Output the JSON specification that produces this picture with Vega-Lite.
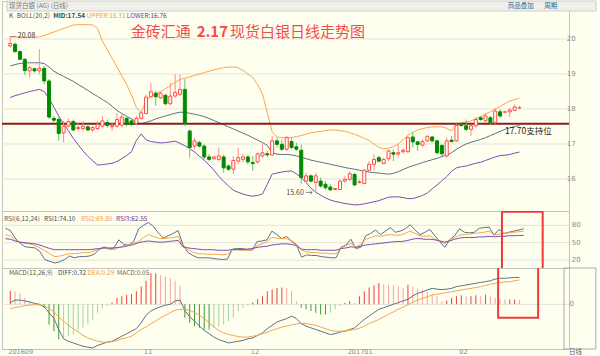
{
"$schema":"https://vega.github.io/schema/vega-lite/v6.json",
"background":"#fffff0",
"padding":0,
"spacing":0,
"bounds":"flush",
"config":{"view":{"stroke":"#c4c4c4"},"font":"Noto Sans CJK SC"},
"datasets":{
"gmain":[{"v":16},{"v":17},{"v":18},{"v":19},{"v":20}],
"grsi":[{"v":20},{"v":50},{"v":80}],
"gmacd":[{"v":0}],
"months":[{"k":1,"t":"201609"},{"k":29,"t":"11"},{"k":51,"t":"12"},{"k":71,"t":"201701"},{"k":94,"t":"02"}],
"c":[
{"k":1,"o":19.80,"h":20.08,"l":19.75,"c":19.87,"u":20.06,"m":19.23,"d":18.33,"r1":75,"r2":64,"r3":57,"df":0.02,"de":-0.05,"mh":0.16},
{"k":2,"o":19.85,"h":19.90,"l":19.61,"c":19.64,"u":20.06,"m":19.27,"d":18.38,"r1":71,"r2":62,"r3":56,"df":0.05,"de":-0.04,"mh":0.155},
{"k":3,"o":19.64,"h":19.68,"l":19.39,"c":19.42,"u":20.06,"m":19.30,"d":18.42,"r1":58,"r2":55,"r3":53,"df":0.05,"de":-0.03,"mh":0.135},
{"k":4,"o":19.42,"h":19.45,"l":18.97,"c":19.10,"u":20.05,"m":19.32,"d":18.46,"r1":49,"r2":51,"r3":51,"df":0.04,"de":-0.015,"mh":0.075},
{"k":5,"o":19.09,"h":19.23,"l":18.90,"c":19.18,"u":20.05,"m":19.32,"d":18.50,"r1":43,"r2":49,"r3":50,"df":0.03,"de":-0.01,"mh":0.03},
{"k":6,"o":19.15,"h":19.18,"l":19.04,"c":19.09,"u":20.05,"m":19.32,"d":18.53,"r1":42,"r2":48,"r3":49,"df":0.01,"de":-0.005,"mh":0.01},
{"k":7,"o":19.09,"h":19.71,"l":18.99,"c":19.16,"u":20.06,"m":19.32,"d":18.56,"r1":41,"r2":45,"r3":48,"df":0.00,"de":-0.005,"mh":-0.01},
{"k":8,"o":19.16,"h":19.23,"l":18.71,"c":18.80,"u":20.10,"m":19.30,"d":18.50,"r1":35,"r2":41,"r3":46,"df":-0.03,"de":-0.015,"mh":-0.04},
{"k":9,"o":18.80,"h":18.85,"l":17.71,"c":17.77,"u":20.15,"m":19.20,"d":18.30,"r1":21,"r2":36,"r3":43,"df":-0.10,"de":-0.05,"mh":-0.24},
{"k":10,"o":17.73,"h":17.80,"l":17.61,"c":17.68,"u":20.20,"m":19.08,"d":18.05,"r1":18,"r2":31,"r3":40,"df":-0.17,"de":-0.09,"mh":-0.32},
{"k":11,"o":17.70,"h":17.77,"l":17.09,"c":17.30,"u":20.25,"m":19.00,"d":17.80,"r1":15,"r2":26,"r3":38,"df":-0.30,"de":-0.15,"mh":-0.42},
{"k":12,"o":17.32,"h":17.66,"l":17.04,"c":17.51,"u":20.30,"m":18.93,"d":17.58,"r1":17,"r2":27,"r3":38,"df":-0.41,"de":-0.20,"mh":-0.40},
{"k":13,"o":17.51,"h":17.73,"l":17.47,"c":17.64,"u":20.35,"m":18.86,"d":17.38,"r1":21,"r2":29,"r3":38,"df":-0.44,"de":-0.25,"mh":-0.38},
{"k":14,"o":17.64,"h":17.70,"l":17.37,"c":17.40,"u":20.40,"m":18.79,"d":17.16,"r1":27,"r2":31,"r3":38,"df":-0.46,"de":-0.29,"mh":-0.36},
{"k":15,"o":17.44,"h":17.61,"l":17.37,"c":17.47,"u":20.41,"m":18.70,"d":16.98,"r1":24,"r2":31,"r3":38,"df":-0.48,"de":-0.33,"mh":-0.32},
{"k":16,"o":17.44,"h":17.66,"l":17.37,"c":17.51,"u":20.41,"m":18.62,"d":16.80,"r1":26,"r2":32,"r3":38,"df":-0.50,"de":-0.37,"mh":-0.28},
{"k":17,"o":17.49,"h":17.56,"l":17.37,"c":17.40,"u":20.41,"m":18.53,"d":16.65,"r1":26,"r2":33,"r3":38,"df":-0.51,"de":-0.40,"mh":-0.24},
{"k":18,"o":17.40,"h":17.51,"l":17.35,"c":17.47,"u":20.40,"m":18.44,"d":16.52,"r1":27,"r2":33,"r3":38,"df":-0.52,"de":-0.42,"mh":-0.18},
{"k":19,"o":17.44,"h":17.66,"l":17.40,"c":17.56,"u":20.30,"m":18.36,"d":16.40,"r1":30,"r2":36,"r3":39,"df":-0.49,"de":-0.44,"mh":-0.10},
{"k":20,"o":17.51,"h":17.80,"l":17.47,"c":17.66,"u":19.94,"m":18.27,"d":16.41,"r1":38,"r2":39,"r3":40,"df":-0.47,"de":-0.45,"mh":-0.05},
{"k":21,"o":17.61,"h":17.70,"l":17.47,"c":17.53,"u":19.70,"m":18.19,"d":16.43,"r1":43,"r2":41,"r3":41,"df":-0.45,"de":-0.45,"mh":-0.02},
{"k":22,"o":17.49,"h":17.61,"l":17.37,"c":17.53,"u":19.45,"m":18.08,"d":16.45,"r1":39,"r2":39,"r3":41,"df":-0.44,"de":-0.445,"mh":0.02},
{"k":23,"o":17.51,"h":17.89,"l":17.47,"c":17.70,"u":19.20,"m":17.96,"d":16.50,"r1":41,"r2":38,"r3":41,"df":-0.41,"de":-0.43,"mh":0.075},
{"k":24,"o":17.54,"h":17.85,"l":17.47,"c":17.77,"u":18.95,"m":17.87,"d":16.58,"r1":55,"r2":42,"r3":42,"df":-0.38,"de":-0.41,"mh":0.095},
{"k":25,"o":17.73,"h":17.80,"l":17.51,"c":17.56,"u":18.70,"m":17.79,"d":16.67,"r1":47,"r2":45,"r3":43,"df":-0.35,"de":-0.40,"mh":0.115},
{"k":26,"o":17.66,"h":17.70,"l":17.51,"c":17.56,"u":18.40,"m":17.72,"d":16.78,"r1":46,"r2":47,"r3":45,"df":-0.32,"de":-0.38,"mh":0.12},
{"k":27,"o":17.59,"h":17.80,"l":17.54,"c":17.73,"u":18.05,"m":17.62,"d":17.10,"r1":52,"r2":49,"r3":47,"df":-0.29,"de":-0.34,"mh":0.155},
{"k":28,"o":17.73,"h":17.94,"l":17.70,"c":17.89,"u":17.89,"m":17.58,"d":17.29,"r1":74,"r2":52,"r3":50,"df":-0.22,"de":-0.30,"mh":0.215},
{"k":29,"o":17.87,"h":18.42,"l":17.85,"c":18.34,"u":18.25,"m":17.62,"d":17.12,"r1":80,"r2":59,"r3":52,"df":-0.13,"de":-0.27,"mh":0.28},
{"k":30,"o":18.35,"h":18.75,"l":18.32,"c":18.49,"u":18.35,"m":17.66,"d":17.07,"r1":85,"r2":64,"r3":53,"df":-0.08,"de":-0.23,"mh":0.37},
{"k":31,"o":18.45,"h":18.51,"l":18.09,"c":18.35,"u":18.44,"m":17.72,"d":17.05,"r1":78,"r2":61,"r3":52,"df":-0.05,"de":-0.20,"mh":0.37},
{"k":32,"o":18.32,"h":18.51,"l":18.28,"c":18.45,"u":18.50,"m":17.76,"d":17.03,"r1":67,"r2":58,"r3":51,"df":-0.03,"de":-0.16,"mh":0.35},
{"k":33,"o":18.39,"h":18.44,"l":18.11,"c":18.15,"u":18.58,"m":17.80,"d":17.04,"r1":58,"r2":57,"r3":51,"df":-0.01,"de":-0.13,"mh":0.33},
{"k":34,"o":18.15,"h":18.75,"l":18.11,"c":18.37,"u":18.66,"m":17.84,"d":17.06,"r1":62,"r2":58,"r3":52,"df":0.00,"de":-0.10,"mh":0.31},
{"k":35,"o":18.37,"h":18.99,"l":18.32,"c":18.47,"u":18.76,"m":17.88,"d":17.08,"r1":66,"r2":59,"r3":53,"df":0.04,"de":-0.07,"mh":0.28},
{"k":36,"o":18.42,"h":18.99,"l":18.37,"c":18.56,"u":18.84,"m":17.91,"d":17.02,"r1":71,"r2":61,"r3":54,"df":0.05,"de":-0.06,"mh":0.22},
{"k":37,"o":18.56,"h":18.85,"l":17.51,"c":17.58,"u":18.88,"m":17.90,"d":16.95,"r1":46,"r2":43,"r3":43,"df":-0.07,"de":-0.06,"mh":-0.16},
{"k":38,"o":17.37,"h":17.42,"l":16.61,"c":16.90,"u":18.92,"m":17.88,"d":16.87,"r1":33,"r2":38,"r3":41,"df":-0.15,"de":-0.07,"mh":-0.22},
{"k":39,"o":16.94,"h":17.18,"l":16.85,"c":17.09,"u":18.96,"m":17.85,"d":16.77,"r1":28,"r2":34,"r3":40,"df":-0.20,"de":-0.10,"mh":-0.26},
{"k":40,"o":17.04,"h":17.09,"l":16.90,"c":16.94,"u":19.00,"m":17.82,"d":16.65,"r1":24,"r2":31,"r3":39,"df":-0.26,"de":-0.13,"mh":-0.28},
{"k":41,"o":16.94,"h":16.99,"l":16.56,"c":16.63,"u":19.04,"m":17.78,"d":16.54,"r1":24,"r2":31,"r3":38,"df":-0.31,"de":-0.17,"mh":-0.30},
{"k":42,"o":16.63,"h":16.71,"l":16.51,"c":16.56,"u":19.08,"m":17.73,"d":16.40,"r1":24,"r2":30,"r3":38,"df":-0.35,"de":-0.22,"mh":-0.30},
{"k":43,"o":16.58,"h":16.66,"l":16.54,"c":16.63,"u":19.12,"m":17.67,"d":16.25,"r1":23,"r2":30,"r3":38,"df":-0.39,"de":-0.27,"mh":-0.28},
{"k":44,"o":16.56,"h":16.90,"l":16.51,"c":16.66,"u":19.15,"m":17.61,"d":16.08,"r1":22,"r2":30,"r3":37,"df":-0.42,"de":-0.31,"mh":-0.26},
{"k":45,"o":16.63,"h":16.69,"l":16.18,"c":16.32,"u":19.18,"m":17.55,"d":15.93,"r1":21,"r2":29,"r3":37,"df":-0.44,"de":-0.34,"mh":-0.24},
{"k":46,"o":16.37,"h":16.42,"l":16.23,"c":16.28,"u":19.20,"m":17.49,"d":15.80,"r1":22,"r2":30,"r3":37,"df":-0.46,"de":-0.36,"mh":-0.20},
{"k":47,"o":16.28,"h":16.66,"l":16.13,"c":16.53,"u":19.20,"m":17.43,"d":15.68,"r1":39,"r2":38,"r3":38,"df":-0.45,"de":-0.37,"mh":-0.16},
{"k":48,"o":16.51,"h":16.90,"l":16.42,"c":16.61,"u":19.18,"m":17.37,"d":15.62,"r1":40,"r2":38,"r3":38,"df":-0.44,"de":-0.385,"mh":-0.08},
{"k":49,"o":16.56,"h":16.71,"l":16.47,"c":16.63,"u":19.10,"m":17.31,"d":15.57,"r1":40,"r2":37,"r3":38,"df":-0.43,"de":-0.39,"mh":-0.04},
{"k":50,"o":16.63,"h":16.69,"l":16.42,"c":16.49,"u":19.00,"m":17.25,"d":15.53,"r1":38,"r2":37,"r3":39,"df":-0.41,"de":-0.39,"mh":-0.02},
{"k":51,"o":16.47,"h":16.66,"l":16.23,"c":16.44,"u":18.90,"m":17.18,"d":15.51,"r1":37,"r2":37,"r3":40,"df":-0.40,"de":-0.38,"mh":0.02},
{"k":52,"o":16.49,"h":16.75,"l":16.44,"c":16.72,"u":18.70,"m":17.11,"d":15.53,"r1":52,"r2":45,"r3":42,"df":-0.37,"de":-0.37,"mh":0.06},
{"k":53,"o":16.66,"h":16.99,"l":16.61,"c":16.75,"u":18.43,"m":17.04,"d":15.57,"r1":53,"r2":48,"r3":43,"df":-0.34,"de":-0.35,"mh":0.095},
{"k":54,"o":16.72,"h":16.80,"l":16.63,"c":16.69,"u":17.90,"m":16.96,"d":15.85,"r1":55,"r2":52,"r3":44,"df":-0.29,"de":-0.33,"mh":0.155},
{"k":55,"o":16.69,"h":17.23,"l":16.66,"c":17.09,"u":17.35,"m":16.75,"d":16.14,"r1":70,"r2":59,"r3":46,"df":-0.25,"de":-0.31,"mh":0.175},
{"k":56,"o":17.09,"h":17.18,"l":16.90,"c":16.99,"u":17.20,"m":16.71,"d":16.17,"r1":64,"r2":58,"r3":47,"df":-0.21,"de":-0.29,"mh":0.195},
{"k":57,"o":16.99,"h":17.13,"l":16.80,"c":16.85,"u":17.18,"m":16.70,"d":16.20,"r1":57,"r2":57,"r3":48,"df":-0.19,"de":-0.27,"mh":0.20},
{"k":58,"o":16.85,"h":17.23,"l":16.80,"c":17.18,"u":17.18,"m":16.70,"d":16.22,"r1":61,"r2":57,"r3":48,"df":-0.17,"de":-0.26,"mh":0.195},
{"k":59,"o":17.07,"h":17.18,"l":16.85,"c":16.90,"u":17.19,"m":16.69,"d":16.23,"r1":52,"r2":54,"r3":47,"df":-0.14,"de":-0.245,"mh":0.155},
{"k":60,"o":16.92,"h":17.04,"l":16.80,"c":16.85,"u":17.21,"m":16.66,"d":16.15,"r1":46,"r2":47,"r3":45,"df":-0.17,"de":-0.235,"mh":0.035},
{"k":61,"o":16.82,"h":16.99,"l":15.85,"c":16.04,"u":17.24,"m":16.62,"d":16.04,"r1":25,"r2":37,"r3":39,"df":-0.23,"de":-0.225,"mh":-0.04},
{"k":62,"o":15.94,"h":16.18,"l":15.90,"c":16.09,"u":17.28,"m":16.58,"d":15.90,"r1":29,"r2":34,"r3":38,"df":-0.26,"de":-0.23,"mh":-0.06},
{"k":63,"o":16.09,"h":16.13,"l":15.90,"c":15.94,"u":17.32,"m":16.54,"d":15.74,"r1":28,"r2":33,"r3":38,"df":-0.28,"de":-0.24,"mh":-0.08},
{"k":64,"o":15.90,"h":16.18,"l":15.60,"c":16.09,"u":17.34,"m":16.51,"d":15.62,"r1":28,"r2":33,"r3":38,"df":-0.30,"de":-0.25,"mh":-0.10},
{"k":65,"o":15.94,"h":16.04,"l":15.75,"c":15.80,"u":17.36,"m":16.48,"d":15.54,"r1":26,"r2":32,"r3":37,"df":-0.32,"de":-0.27,"mh":-0.12},
{"k":66,"o":15.85,"h":15.94,"l":15.70,"c":15.75,"u":17.38,"m":16.45,"d":15.46,"r1":25,"r2":32,"r3":37,"df":-0.34,"de":-0.29,"mh":-0.12},
{"k":67,"o":15.77,"h":15.85,"l":15.66,"c":15.69,"u":17.40,"m":16.42,"d":15.40,"r1":24,"r2":31,"r3":37,"df":-0.36,"de":-0.31,"mh":-0.10},
{"k":68,"o":15.70,"h":15.75,"l":15.68,"c":15.73,"u":17.40,"m":16.39,"d":15.36,"r1":24,"r2":31,"r3":37,"df":-0.35,"de":-0.32,"mh":-0.06},
{"k":69,"o":15.70,"h":15.99,"l":15.68,"c":15.94,"u":17.38,"m":16.36,"d":15.33,"r1":42,"r2":41,"r3":40,"df":-0.33,"de":-0.32,"mh":-0.02},
{"k":70,"o":15.94,"h":16.09,"l":15.90,"c":15.99,"u":17.36,"m":16.33,"d":15.30,"r1":46,"r2":45,"r3":41,"df":-0.32,"de":-0.32,"mh":0.016},
{"k":71,"o":15.99,"h":16.23,"l":15.94,"c":16.15,"u":17.32,"m":16.30,"d":15.28,"r1":56,"r2":49,"r3":43,"df":-0.30,"de":-0.31,"mh":0.036},
{"k":72,"o":16.13,"h":16.18,"l":15.80,"c":15.83,"u":17.28,"m":16.28,"d":15.26,"r1":40,"r2":42,"r3":42,"df":-0.28,"de":-0.30,"mh":0.016},
{"k":73,"o":15.90,"h":15.99,"l":15.87,"c":15.92,"u":17.22,"m":16.25,"d":15.27,"r1":42,"r2":48,"r3":44,"df":-0.23,"de":-0.285,"mh":0.095},
{"k":74,"o":15.87,"h":16.28,"l":15.85,"c":16.25,"u":17.16,"m":16.22,"d":15.29,"r1":62,"r2":56,"r3":46,"df":-0.18,"de":-0.26,"mh":0.155},
{"k":75,"o":16.25,"h":16.51,"l":16.23,"c":16.42,"u":17.10,"m":16.20,"d":15.32,"r1":66,"r2":59,"r3":47,"df":-0.14,"de":-0.23,"mh":0.20},
{"k":76,"o":16.42,"h":16.71,"l":16.23,"c":16.56,"u":17.00,"m":16.18,"d":15.35,"r1":72,"r2":62,"r3":48,"df":-0.10,"de":-0.205,"mh":0.226},
{"k":77,"o":16.61,"h":16.66,"l":16.47,"c":16.51,"u":16.90,"m":16.17,"d":15.38,"r1":64,"r2":61,"r3":49,"df":-0.06,"de":-0.18,"mh":0.254},
{"k":78,"o":16.44,"h":16.61,"l":16.42,"c":16.56,"u":16.86,"m":16.15,"d":15.43,"r1":70,"r2":63,"r3":50,"df":-0.04,"de":-0.15,"mh":0.24},
{"k":79,"o":16.58,"h":16.85,"l":16.51,"c":16.80,"u":16.88,"m":16.14,"d":15.48,"r1":76,"r2":64,"r3":51,"df":-0.02,"de":-0.12,"mh":0.234},
{"k":80,"o":16.75,"h":16.85,"l":16.51,"c":16.71,"u":16.92,"m":16.16,"d":15.49,"r1":68,"r2":63,"r3":52,"df":0.00,"de":-0.09,"mh":0.226},
{"k":81,"o":16.71,"h":16.99,"l":16.61,"c":16.75,"u":17.00,"m":16.21,"d":15.49,"r1":70,"r2":63,"r3":52,"df":0.02,"de":-0.06,"mh":0.214},
{"k":82,"o":16.78,"h":16.88,"l":16.72,"c":16.82,"u":17.12,"m":16.27,"d":15.47,"r1":74,"r2":66,"r3":53,"df":0.04,"de":-0.035,"mh":0.194},
{"k":83,"o":16.78,"h":17.23,"l":16.75,"c":17.18,"u":17.25,"m":16.33,"d":15.44,"r1":81,"r2":70,"r3":55,"df":0.06,"de":-0.005,"mh":0.234},
{"k":84,"o":17.20,"h":17.33,"l":16.90,"c":17.06,"u":17.33,"m":16.38,"d":15.44,"r1":72,"r2":66,"r3":57,"df":0.10,"de":0.025,"mh":0.214},
{"k":85,"o":17.06,"h":17.09,"l":16.80,"c":16.99,"u":17.40,"m":16.42,"d":15.48,"r1":64,"r2":62,"r3":57,"df":0.13,"de":0.05,"mh":0.186},
{"k":86,"o":16.97,"h":17.13,"l":16.90,"c":17.07,"u":17.44,"m":16.47,"d":15.53,"r1":68,"r2":61,"r3":56,"df":0.15,"de":0.07,"mh":0.174},
{"k":87,"o":17.09,"h":17.25,"l":17.06,"c":17.22,"u":17.47,"m":16.51,"d":15.60,"r1":73,"r2":62,"r3":56,"df":0.17,"de":0.09,"mh":0.147},
{"k":88,"o":17.20,"h":17.23,"l":17.04,"c":17.09,"u":17.49,"m":16.55,"d":15.72,"r1":62,"r2":56,"r3":55,"df":0.19,"de":0.11,"mh":0.115},
{"k":89,"o":17.09,"h":17.13,"l":16.70,"c":16.75,"u":17.49,"m":16.59,"d":15.83,"r1":52,"r2":53,"r3":53,"df":0.18,"de":0.12,"mh":0.095},
{"k":90,"o":16.96,"h":16.99,"l":16.66,"c":16.72,"u":17.49,"m":16.64,"d":15.95,"r1":42,"r2":49,"r3":51,"df":0.175,"de":0.13,"mh":0.036},
{"k":91,"o":16.66,"h":17.18,"l":16.60,"c":17.09,"u":17.45,"m":16.69,"d":16.07,"r1":55,"r2":55,"r3":53,"df":0.18,"de":0.14,"mh":0.044},
{"k":92,"o":17.11,"h":17.23,"l":17.04,"c":17.07,"u":17.37,"m":16.75,"d":16.22,"r1":62,"r2":59,"r3":56,"df":0.19,"de":0.15,"mh":0.075},
{"k":93,"o":17.09,"h":17.58,"l":17.06,"c":17.53,"u":17.57,"m":16.85,"d":16.32,"r1":74,"r2":63,"r3":58,"df":0.21,"de":0.16,"mh":0.095},
{"k":94,"o":17.56,"h":17.61,"l":17.49,"c":17.53,"u":17.60,"m":16.93,"d":16.35,"r1":68,"r2":64,"r3":59,"df":0.22,"de":0.17,"mh":0.107},
{"k":95,"o":17.52,"h":17.70,"l":17.37,"c":17.42,"u":17.63,"m":17.00,"d":16.37,"r1":67,"r2":65,"r3":59,"df":0.23,"de":0.18,"mh":0.095},
{"k":96,"o":17.42,"h":17.56,"l":17.23,"c":17.52,"u":17.66,"m":17.05,"d":16.41,"r1":68,"r2":66,"r3":59,"df":0.24,"de":0.19,"mh":0.095},
{"k":97,"o":17.52,"h":17.77,"l":17.47,"c":17.70,"u":17.72,"m":17.09,"d":16.45,"r1":75,"r2":67,"r3":60,"df":0.25,"de":0.20,"mh":0.107},
{"k":98,"o":17.75,"h":17.80,"l":17.66,"c":17.70,"u":17.79,"m":17.13,"d":16.48,"r1":76,"r2":68,"r3":60,"df":0.26,"de":0.21,"mh":0.095},
{"k":99,"o":17.66,"h":17.87,"l":17.61,"c":17.80,"u":17.86,"m":17.18,"d":16.53,"r1":77,"r2":70,"r3":61,"df":0.27,"de":0.225,"mh":0.115},
{"k":100,"o":17.75,"h":17.80,"l":17.56,"c":17.61,"u":17.92,"m":17.24,"d":16.58,"r1":63,"r2":63,"r3":60,"df":0.28,"de":0.24,"mh":0.095},
{"k":101,"o":17.61,"h":18.03,"l":17.56,"c":17.94,"u":18.00,"m":17.30,"d":16.63,"r1":73,"r2":65,"r3":61,"df":0.30,"de":0.25,"mh":0.075},
{"k":102,"o":17.92,"h":17.99,"l":17.75,"c":17.80,"u":18.07,"m":17.36,"d":16.67,"r1":66,"r2":66,"r3":61,"df":0.31,"de":0.26,"mh":0.067},
{"k":103,"o":17.91,"h":17.94,"l":17.89,"c":17.92,"u":18.15,"m":17.42,"d":16.68,"r1":68,"r2":67,"r3":62,"df":0.31,"de":0.265,"mh":0.056},
{"k":104,"o":17.92,"h":18.03,"l":17.77,"c":17.97,"u":18.23,"m":17.46,"d":16.70,"r1":70,"r2":68,"r3":62,"df":0.315,"de":0.27,"mh":0.056},
{"k":105,"o":17.96,"h":18.13,"l":17.94,"c":18.06,"u":18.27,"m":17.50,"d":16.74,"r1":72,"r2":69,"r3":62.5,"df":0.32,"de":0.28,"mh":0.056},
{"k":106,"o":18.03,"h":18.09,"l":17.99,"c":18.04,"u":18.31,"m":17.53,"d":16.77,"r1":74.1,"r2":69.8,"r3":62.55,"df":0.32,"de":0.29,"mh":0.05}
]},
"vconcat":[
{
"width":567,"height":210,
"layer":[
{"data":{"name":"gmain"},"mark":{"type":"rule","color":"#e2e2da","strokeWidth":1},
 "encoding":{"y":{"field":"v","type":"quantitative","scale":{"domain":[15.0857,21.0857],"nice":false,"zero":false},"axis":null}}},
{"data":{"name":"gmain"},"mark":{"type":"text","align":"left","baseline":"middle","fontSize":7,"color":"#8a8a8a","font":"DejaVu Sans"},
 "encoding":{"x":{"datum":115.75,"axis":null},"y":{"field":"v","type":"quantitative","axis":null},"text":{"field":"v","type":"quantitative"}}},
{"data":{"values":[{}]},"mark":{"type":"rect","fill":"#f0f0ea","stroke":"#cccccc","strokeWidth":1},
 "encoding":{"x":{"datum":0.33,"axis":null},"x2":{"datum":121.8},"y":{"datum":20.8,"type":"quantitative","axis":null},"y2":{"datum":21.0857}}},
{"data":{"name":"c"},"mark":{"type":"line","color":"#f6a64c","strokeWidth":1},
 "encoding":{"x":{"field":"k","type":"quantitative","scale":{"domain":[0.33,115.18],"nice":false,"zero":false},"axis":null},
 "y":{"field":"u","type":"quantitative","axis":null}}},
{"data":{"name":"c"},"mark":{"type":"line","color":"#5d7186","strokeWidth":1},
 "encoding":{"x":{"field":"k","type":"quantitative","axis":null},"y":{"field":"m","type":"quantitative","axis":null}}},
{"data":{"name":"c"},"mark":{"type":"line","color":"#7b4fae","strokeWidth":1},
 "encoding":{"x":{"field":"k","type":"quantitative","axis":null},"y":{"field":"d","type":"quantitative","axis":null}}},
{"data":{"values":[{}]},"mark":{"type":"rule","color":"#8b1c1c","strokeWidth":2},
 "encoding":{"y":{"datum":17.58,"axis":null}}},
{"data":{"name":"c"},"mark":{"type":"rule","strokeWidth":1},
 "encoding":{"x":{"field":"k","type":"quantitative","axis":null},"y":{"field":"l","type":"quantitative","axis":null},"y2":{"field":"h"},
 "color":{"condition":{"test":"datum.c>=datum.o","value":"#ff8a8a"},"value":"#6fbf6f"}}},
{"data":{"name":"c"},"mark":{"type":"bar","size":3,"strokeWidth":1},
 "encoding":{"x":{"field":"k","type":"quantitative","axis":null},"y":{"field":"o","type":"quantitative","axis":null},"y2":{"field":"c"},
 "fill":{"condition":{"test":"datum.c>=datum.o","value":"#fffff0"},"value":"#008a00"},
 "stroke":{"condition":{"test":"datum.c>=datum.o","value":"#ff4a4a"},"value":"#008a00"}}},
{"data":{"values":[{}]},"mark":{"type":"text","text":"现货白银 (AG) (日线)","align":"left","baseline":"middle","fontSize":6.5,"color":"#777777"},
 "encoding":{"x":{"datum":0.74,"axis":null},"y":{"datum":20.943,"axis":null}}},
{"data":{"values":[{}]},"mark":{"type":"text","text":"商品叠加","align":"left","baseline":"middle","fontSize":6.5,"color":"#2a6a9a"},
 "encoding":{"x":{"datum":103.6,"axis":null},"y":{"datum":20.943,"axis":null}}},
{"data":{"values":[{}]},"mark":{"type":"text","text":"周期","align":"left","baseline":"middle","fontSize":6.5,"color":"#2a6a9a"},
 "encoding":{"x":{"datum":111.1,"axis":null},"y":{"datum":20.943,"axis":null}}},
{"data":{"values":[{}]},"mark":{"type":"text","text":"K","align":"left","baseline":"middle","fontSize":6.5,"color":"#555555"},
 "encoding":{"x":{"datum":0.74,"axis":null},"y":{"datum":20.657,"axis":null}}},
{"data":{"values":[{}]},"mark":{"type":"text","text":"BOLL(20,2)","align":"left","baseline":"middle","fontSize":6.5,"color":"#555555"},
 "encoding":{"x":{"datum":2.36,"axis":null},"y":{"datum":20.657,"axis":null}}},
{"data":{"values":[{}]},"mark":{"type":"text","text":"MID:17.54","align":"left","baseline":"middle","fontSize":6.5,"fontWeight":"bold","color":"#34495e"},
 "encoding":{"x":{"datum":9.85,"axis":null},"y":{"datum":20.657,"axis":null}}},
{"data":{"values":[{}]},"mark":{"type":"text","text":"UPPER:18.31","align":"left","baseline":"middle","fontSize":6.5,"color":"#f39c3c"},
 "encoding":{"x":{"datum":16.74,"axis":null},"y":{"datum":20.657,"axis":null}}},
{"data":{"values":[{}]},"mark":{"type":"text","text":"LOWER:16.76","align":"left","baseline":"middle","fontSize":6.5,"color":"#6a3aa0"},
 "encoding":{"x":{"datum":25.04,"axis":null},"y":{"datum":20.657,"axis":null}}},
{"data":{"values":[{}]},"mark":{"type":"text","text":"金砖汇通","align":"left","baseline":"middle","fontSize":15,"color":"#f24c4c"},
 "encoding":{"x":{"datum":25.85,"axis":null},"y":{"datum":20.21,"axis":null}}},
{"data":{"values":[{}]},"mark":{"type":"text","text":"2.17","align":"left","baseline":"middle","fontSize":15,"fontWeight":"bold","color":"#f24c4c"},
 "encoding":{"x":{"datum":39.43,"axis":null},"y":{"datum":20.21,"axis":null}}},
{"data":{"values":[{}]},"mark":{"type":"text","text":"现货白银日线走势图","align":"left","baseline":"middle","fontSize":15,"color":"#f24c4c"},
 "encoding":{"x":{"datum":46.3,"axis":null},"y":{"datum":20.21,"axis":null}}},
{"data":{"values":[{}]},"mark":{"type":"text","text":"— 20.08","align":"left","baseline":"middle","fontSize":7,"color":"#333333"},
 "encoding":{"x":{"datum":0.94,"axis":null},"y":{"datum":20.086,"axis":null}}},
{"data":{"values":[{}]},"mark":{"type":"text","text":"15.60 →","align":"right","baseline":"middle","fontSize":7,"color":"#3a4a5a"},
 "encoding":{"x":{"datum":63.3,"axis":null},"y":{"datum":15.6,"axis":null}}},
{"data":{"values":[{}]},"mark":{"type":"text","text":"17.70支持位","align":"left","baseline":"middle","fontSize":8.5,"color":"#222222"},
 "encoding":{"x":{"datum":103.0,"axis":null},"y":{"datum":17.37,"axis":null}}}
]
},
{
"width":567,"height":57,
"layer":[
{"data":{"name":"grsi"},"mark":{"type":"rule","color":"#e2e2da","strokeWidth":1},
 "encoding":{"y":{"field":"v","type":"quantitative","scale":{"domain":[6.4,104.7],"nice":false,"zero":false},"axis":null}}},
{"data":{"name":"grsi"},"mark":{"type":"text","align":"left","baseline":"middle","fontSize":7,"color":"#8a8a8a","font":"DejaVu Sans"},
 "encoding":{"x":{"datum":115.75,"axis":null},"y":{"field":"v","type":"quantitative","axis":null},"text":{"field":"v","type":"quantitative"}}},
{"data":{"name":"c"},"mark":{"type":"line","color":"#5d7186","strokeWidth":1},
 "encoding":{"x":{"field":"k","type":"quantitative","scale":{"domain":[0.33,115.18],"nice":false,"zero":false},"axis":null},
 "y":{"field":"r1","type":"quantitative","axis":null}}},
{"data":{"name":"c"},"mark":{"type":"line","color":"#f6a64c","strokeWidth":1},
 "encoding":{"x":{"field":"k","type":"quantitative","axis":null},"y":{"field":"r2","type":"quantitative","axis":null}}},
{"data":{"name":"c"},"mark":{"type":"line","color":"#7b4fae","strokeWidth":1},
 "encoding":{"x":{"field":"k","type":"quantitative","axis":null},"y":{"field":"r3","type":"quantitative","axis":null}}},
{"data":{"values":[{}]},"mark":{"type":"rect","fillOpacity":0,"stroke":"#f03a3a","strokeWidth":2,"clip":true},
 "encoding":{"x":{"datum":101.6,"axis":null},"x2":{"datum":109.85},"y":{"datum":103.45,"axis":null},"y2":{"datum":-60}}},
{"data":{"values":[{}]},"mark":{"type":"text","text":"RSI(6,12,24)","align":"left","baseline":"middle","fontSize":6.5,"color":"#555555"},
 "encoding":{"x":{"datum":0.74,"axis":null},"y":{"datum":90.4,"axis":null}}},
{"data":{"values":[{}]},"mark":{"type":"text","text":"RSI1:74.10","align":"left","baseline":"middle","fontSize":6.5,"color":"#34495e"},
 "encoding":{"x":{"datum":8.84,"axis":null},"y":{"datum":90.4,"axis":null}}},
{"data":{"values":[{}]},"mark":{"type":"text","text":"RSI2:69.80","align":"left","baseline":"middle","fontSize":6.5,"color":"#f39c3c"},
 "encoding":{"x":{"datum":16.33,"axis":null},"y":{"datum":90.4,"axis":null}}},
{"data":{"values":[{}]},"mark":{"type":"text","text":"RSI3:62.55","align":"left","baseline":"middle","fontSize":6.5,"color":"#6a3aa0"},
 "encoding":{"x":{"datum":23.42,"axis":null},"y":{"datum":90.4,"axis":null}}}
]
},
{
"width":567,"height":81,
"layer":[
{"data":{"name":"gmacd"},"mark":{"type":"rule","color":"#e2e2da","strokeWidth":1},
 "encoding":{"y":{"field":"v","type":"quantitative","scale":{"domain":[-0.532,0.432],"nice":false,"zero":false},"axis":null}}},
{"data":{"values":[{}]},"mark":{"type":"rect","fillOpacity":0,"stroke":"#a8a8a8","strokeWidth":1},
 "encoding":{"x":{"datum":115.18,"axis":null},"x2":{"datum":121.75},"y":{"datum":0.432,"axis":null},"y2":{"datum":-0.532}}},
{"data":{"name":"gmacd"},"mark":{"type":"text","align":"left","baseline":"middle","fontSize":7,"color":"#8a8a8a","font":"DejaVu Sans"},
 "encoding":{"x":{"datum":116.3,"axis":null},"y":{"field":"v","type":"quantitative","axis":null},"text":{"field":"v","type":"quantitative"}}},
{"data":{"name":"c"},"transform":[{"window":[{"op":"lag","field":"mh","as":"pm"}],"sort":[{"field":"k"}]}],
 "mark":{"type":"bar","size":1},
 "encoding":{"x":{"field":"k","type":"quantitative","scale":{"domain":[0.33,115.18],"nice":false,"zero":false},"axis":null},
 "y":{"field":"mh","type":"quantitative","axis":null},
 "y2":{"datum":0},
 "color":{"condition":[{"test":"datum.mh>=0 && (datum.pm==null || datum.mh>=datum.pm)","value":"#f23c3c"},{"test":"datum.mh>=0","value":"#f7a3a3"},{"test":"datum.mh<=datum.pm","value":"#3a9a3a"}],"value":"#a3d39a"}}},
{"data":{"name":"c"},"mark":{"type":"line","color":"#5d7186","strokeWidth":1},
 "encoding":{"x":{"field":"k","type":"quantitative","axis":null},"y":{"field":"df","type":"quantitative","axis":null}}},
{"data":{"name":"c"},"mark":{"type":"line","color":"#f6a64c","strokeWidth":1},
 "encoding":{"x":{"field":"k","type":"quantitative","axis":null},"y":{"field":"de","type":"quantitative","axis":null}}},
{"data":{"values":[{}]},"mark":{"type":"rect","fillOpacity":0,"stroke":"#f03a3a","strokeWidth":2,"clip":true},
 "encoding":{"x":{"datum":101.6,"axis":null},"x2":{"datum":109.85},"y":{"datum":1.5,"axis":null},"y2":{"datum":-0.16}}},
{"data":{"values":[{}]},"mark":{"type":"text","text":"MACD(12,26,9)","align":"left","baseline":"middle","fontSize":6.5,"color":"#555555"},
 "encoding":{"x":{"datum":0.74,"axis":null},"y":{"datum":0.376,"axis":null}}},
{"data":{"values":[{}]},"mark":{"type":"text","text":"DIFF:0.32","align":"left","baseline":"middle","fontSize":6.5,"color":"#34495e"},
 "encoding":{"x":{"datum":10.86,"axis":null},"y":{"datum":0.376,"axis":null}}},
{"data":{"values":[{}]},"mark":{"type":"text","text":"DEA:0.29","align":"left","baseline":"middle","fontSize":6.5,"color":"#f39c3c"},
 "encoding":{"x":{"datum":16.94,"axis":null},"y":{"datum":0.376,"axis":null}}},
{"data":{"values":[{}]},"mark":{"type":"text","text":"MACD:0.05","align":"left","baseline":"middle","fontSize":6.5,"color":"#666666"},
 "encoding":{"x":{"datum":23.02,"axis":null},"y":{"datum":0.376,"axis":null}}},
{"data":{"name":"months"},"mark":{"type":"text","align":"left","baseline":"middle","fontSize":6.5,"color":"#888888","dx":-2,"font":"DejaVu Sans"},
 "encoding":{"x":{"field":"k","type":"quantitative","axis":null},"y":{"datum":-0.572,"axis":null},"text":{"field":"t"}}},
{"data":{"values":[{}]},"mark":{"type":"text","text":"日线","align":"left","baseline":"middle","fontSize":6.5,"color":"#666666"},
 "encoding":{"x":{"datum":116.2,"axis":null},"y":{"datum":-0.572,"axis":null}}}
]
}
]
}
